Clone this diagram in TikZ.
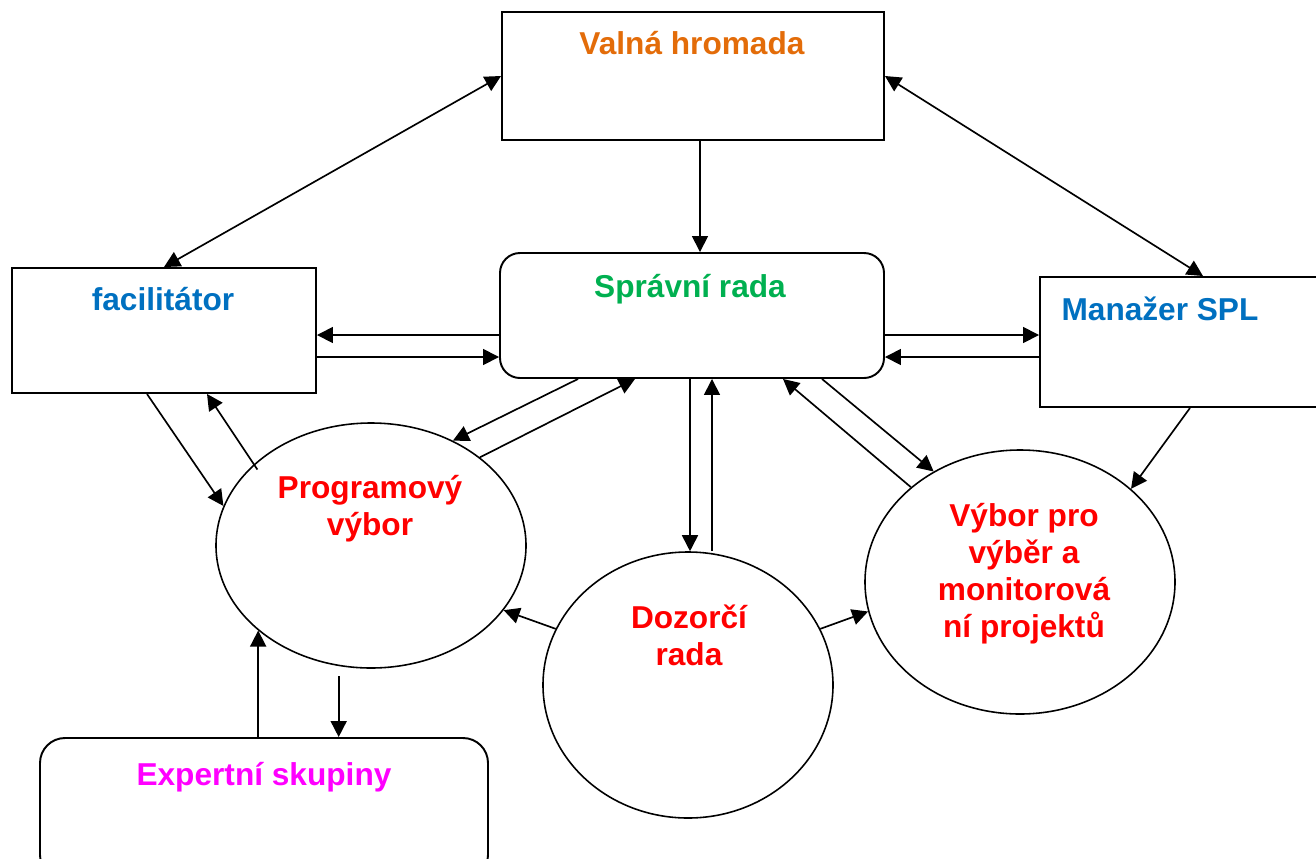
\documentclass[tikz,border=0pt]{standalone}
\usepackage{fontspec}
\setmainfont{Liberation Sans}
\usetikzlibrary{arrows.meta,calc,positioning,shapes.geometric}

\definecolor{vhorange}{HTML}{E36C09}
\definecolor{srgreen}{HTML}{00B050}
\definecolor{facblue}{HTML}{0070C0}
\definecolor{orgred}{HTML}{FF0000}
\definecolor{expmagenta}{HTML}{FF00FF}

\tikzset{
  box/.style={draw,line width=1.1pt,inner sep=0pt},
  roundbox/.style={box,rounded corners=4mm},
  oval/.style={draw,ellipse,line width=0.9pt,inner sep=0pt},
  lbl/.style={anchor=base,inner sep=0pt,font=\bfseries\fontsize{18}{21}\selectfont,align=center},
  link/.style={->,line width=0.95pt},
  both/.style={<->,line width=0.95pt}
}

\begin{document}
\begin{tikzpicture}[x=0.2mm,y=-0.2mm,>={Triangle[length=3.2mm,width=3.2mm]}]
  \useasboundingbox (0,0) rectangle (1316,858);
  % boxes
  \node[box,minimum width=76.4mm,minimum height=25.6mm] (vh) at (693,76) {};
  \node[roundbox,minimum width=76.8mm,minimum height=25mm] (sr) at (692,315.5) {};
  \node[box,minimum width=60.8mm,minimum height=25mm] (fac) at (164,330.5) {};
  \node[box,minimum width=58mm,minimum height=26mm] (man) at (1185,342) {};
  \node[roundbox,rounded corners=5mm,minimum width=89.6mm,minimum height=28.4mm] (exp) at (264,809) {};
  % committees
  \node[oval,minimum width=62mm,minimum height=49mm] (pv) at (371,545.5) {};
  \node[oval,minimum width=58mm,minimum height=53.2mm] (dr) at (688,685) {};
  \node[oval,minimum width=62mm,minimum height=52.8mm] (vv) at (1020,582) {};
  % texts (base = last line)
  \node[lbl,text=vhorange] (vh text) at (692,54) {Valná hromada};
  \node[lbl,text=srgreen] (sr text) at (690,297) {Správní rada};
  \node[lbl,text=facblue] (fac text) at (163,310) {facilitátor};
  \node[lbl,text=facblue] (man text) at (1160,320) {Manažer SPL};
  \node[lbl,text=expmagenta] (exp text) at (264,785) {Expertní skupiny};
  \node[lbl,text=orgred] (pv text) at (370,535) {Programový\\výbor};
  \node[lbl,text=orgred] (dr text) at (689,665) {Dozorčí\\rada};
  \node[lbl,text=orgred] (vv text) at (1024,637) {Výbor pro\\výběr a\\monitorová\\ní projektů};
  % connectors
  \draw[both] (vh.west) -- (fac.north);
  \draw[both] (vh.east) -- ([xshift=3.6mm]man.north);
  \draw[link] ([xshift=1.4mm]vh.south) -- ([xshift=1.4mm]vh.south |- sr.north);
  \draw[link] ([yshift=-3.9mm]sr.west) -- ([yshift=-3.9mm]sr.west -| fac.east);
  \draw[link] ([yshift=-8.3mm]sr.west -| fac.east) -- ([yshift=-8.3mm]sr.west);
  \draw[link] ([yshift=-3.9mm]sr.east) -- ([yshift=-3.9mm]sr.east -| man.west);
  \draw[link] ([yshift=-8.3mm]sr.east -| man.west) -- ([yshift=-8.3mm]sr.east);
  \draw[link] ([xshift=-22.8mm]sr.south) -- (pv.52);
  \draw[link] (pv.39) -- ([xshift=-11.4mm]sr.south);
  \draw[link] ([xshift=-0.4mm]sr.south) -- ([xshift=-0.4mm]sr.south |- dr.north);
  \draw[link] ([xshift=4mm]sr.south |- dr.north) -- ([xshift=4mm]sr.south);
  \draw[link] ([xshift=26mm]sr.south) -- (vv.128);
  \draw[link] (vv.139) -- ([xshift=18.2mm]sr.south);
  \draw[link] ([xshift=1mm]man.south) -- (vv.40);
  \draw[link] ([xshift=-3.4mm]fac.south) -- (pv.165);
  \draw[link] ([shift={(1mm,-0.8mm)}]pv.146) -- ([xshift=8.6mm]fac.south);
  \draw[link] (dr.157) -- (pv.-26);
  \draw[link] (dr.23) -- (vv.191);
  \draw[link] (pv.-143 |- exp.north) -- (pv.-143);
  \draw[link] ([yshift=-2mm]pv.-105) -- (pv.-105 |- exp.north);
\end{tikzpicture}
\end{document}
